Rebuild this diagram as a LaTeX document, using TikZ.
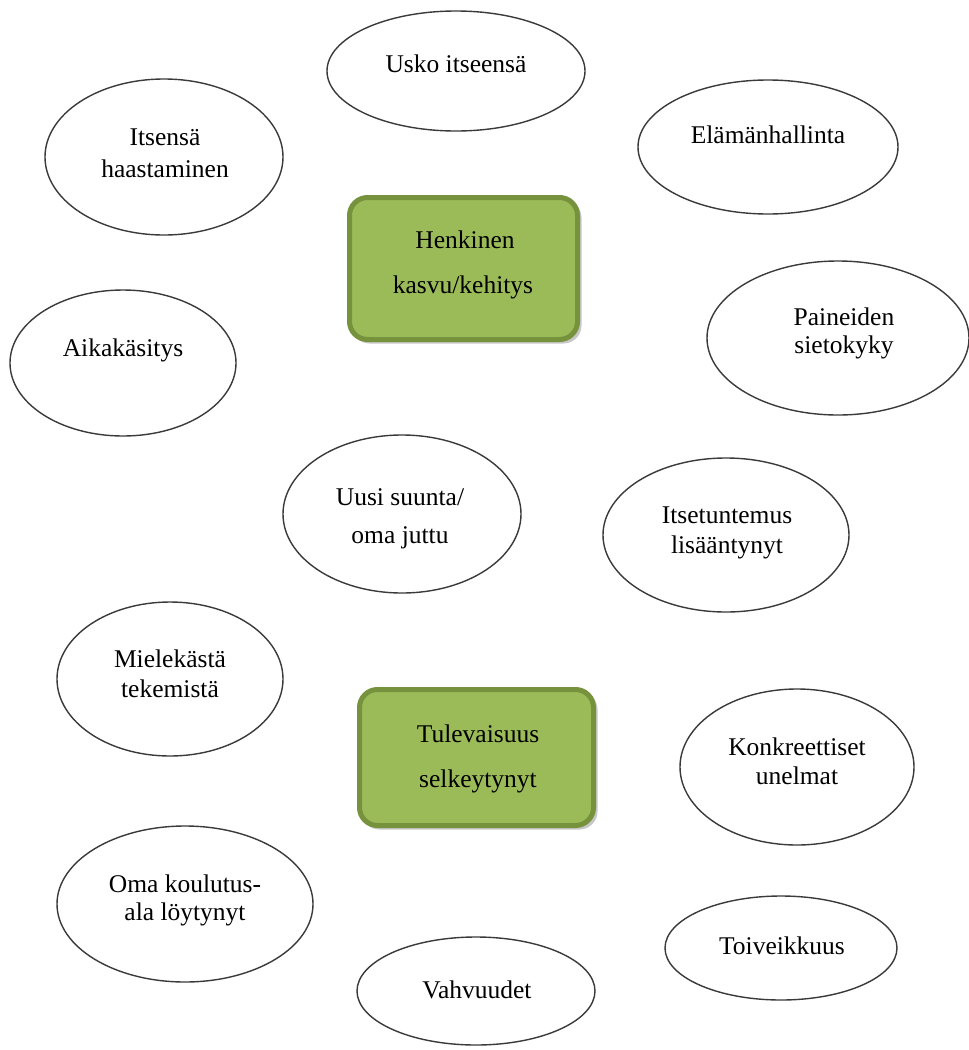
\documentclass[tikz,border=0pt]{standalone}
\usepackage{fontspec}
\setmainfont{Liberation Serif}
\usetikzlibrary{shapes.geometric}
\definecolor{boxfill}{HTML}{9BBB59}
\definecolor{boxline}{HTML}{76923C}
\definecolor{ovalline}{HTML}{3A3A3A}
\begin{document}
\begin{tikzpicture}[x=1pt,y=-1pt,
  oval/.style={ellipse, draw=ovalline, line width=1.4pt, fill=white, inner sep=0pt},
  lbl/.style={anchor=base, inner sep=0pt, font=\fontsize{25.5}{30}\selectfont},
  keybox/.style={rectangle, rounded corners=18pt, draw=boxline, fill=boxfill, line width=5pt, inner sep=0pt},
  boxshadow/.style={rectangle, rounded corners=18pt, fill=black, opacity=0.22, inner sep=0pt}]
\useasboundingbox[fill=white] (0,0) rectangle (969,1050);

% central boxes
\node[boxshadow, minimum width=230pt, minimum height=144pt] (s1) at (466.5,271.5) {};
\node[keybox, minimum width=228pt, minimum height=142pt] (b1) at (463.5,268.5) {};
\node[lbl] (b1a) at (465,248) {Henkinen};
\node[lbl] (b1b) at (463,293) {kasvu/kehitys};

\node[boxshadow, minimum width=236pt, minimum height=138pt] (s2) at (479.5,760.5) {};
\node[keybox, minimum width=234pt, minimum height=136pt] (b2) at (476.5,757.5) {};
\node[lbl] (b2a) at (478,742) {Tulevaisuus};
\node[lbl] (b2b) at (478,787) {selkeytynyt};

% ellipses
\node[oval, minimum width=258pt, minimum height=120pt] (e1) at (456,71) {};
\node[lbl] (t1) at (456,72) {Usko itseensä};

\node[oval, minimum width=238pt, minimum height=156pt] (e2) at (164,157) {};
\node[lbl] (t2a) at (165,145) {Itsensä};
\node[lbl] (t2b) at (165,177) {haastaminen};

\node[oval, minimum width=260pt, minimum height=134pt] (e3) at (768,147) {};
\node[lbl] (t3) at (768,143) {Elämänhallinta};

\node[oval, minimum width=262pt, minimum height=154pt] (e4) at (838,338) {};
\node[lbl] (t4a) at (844,325) {Paineiden};
\node[lbl] (t4b) at (844,353) {sietokyky};

\node[oval, minimum width=226pt, minimum height=146pt] (e5) at (123,363) {};
\node[lbl] (t5) at (123,356) {Aikakäsitys};

\node[oval, minimum width=238pt, minimum height=158pt] (e6) at (402,514) {};
\node[lbl] (t6a) at (400,505) {Uusi suunta/};
\node[lbl] (t6b) at (400,543) {oma juttu};

\node[oval, minimum width=246pt, minimum height=154pt] (e7) at (726,535) {};
\node[lbl] (t7a) at (727,523) {Itsetuntemus};
\node[lbl] (t7b) at (727,553) {lisääntynyt};

\node[oval, minimum width=226pt, minimum height=154pt] (e8) at (170,679) {};
\node[lbl] (t8a) at (170,667) {Mielekästä};
\node[lbl] (t8b) at (170,697) {tekemistä};

\node[oval, minimum width=234pt, minimum height=156pt] (e9) at (797,767) {};
\node[lbl] (t9a) at (797,755) {Konkreettiset};
\node[lbl] (t9b) at (797,784) {unelmat};

\node[oval, minimum width=256pt, minimum height=156pt] (e10) at (185,904) {};
\node[lbl] (t10a) at (185,892) {Oma koulutus-};
\node[lbl] (t10b) at (185,920) {ala löytynyt};

\node[oval, minimum width=232pt, minimum height=104pt] (e11) at (781,948) {};
\node[lbl] (t11) at (782,954) {Toiveikkuus};

\node[oval, minimum width=238pt, minimum height=108pt] (e12) at (476,991) {};
\node[lbl] (t12) at (477,998) {Vahvuudet};
\end{tikzpicture}
\end{document}
